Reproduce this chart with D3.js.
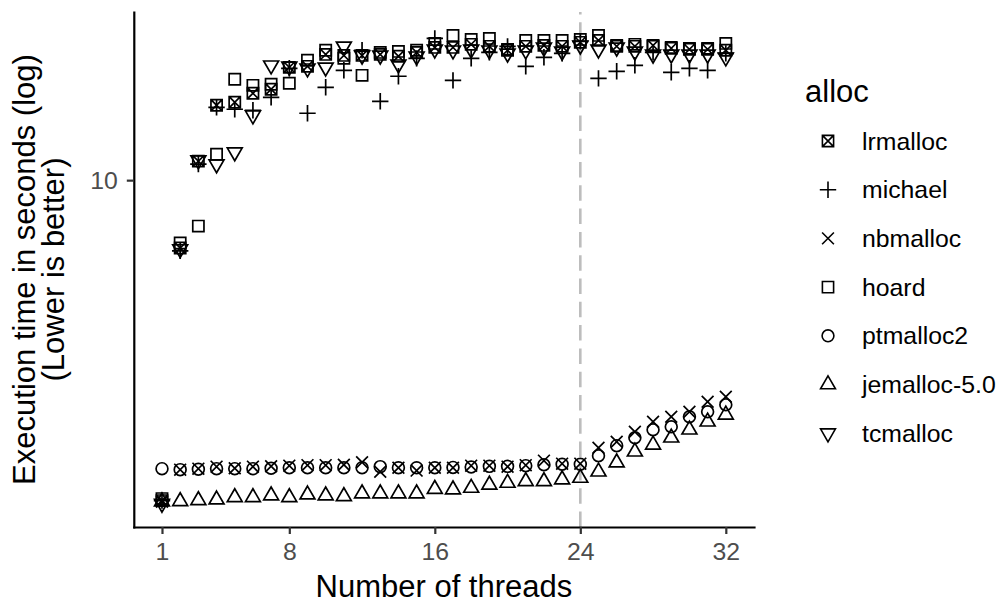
<!DOCTYPE html>
<html><head><meta charset="utf-8">
<script src="https://cdn.jsdelivr.net/npm/d3@7"></script>
<style>body{margin:0;background:#fff}</style>
</head><body>
<svg id="chart" width="998" height="604" xmlns="http://www.w3.org/2000/svg"></svg>
<script>
// ---- data (execution time in seconds) ----
const threads = [1,2,3,4,5,6,7,8,9,10,11,12,13,14,15,16,17,18,19,20,21,22,23,24,25,26,27,28,29,30,31,32];
const allocNames = ["lrmalloc","michael","nbmalloc","hoard","ptmalloc2","jemalloc-5.0","tcmalloc"];
const lrmalloc = [1.721,6.89,11.10,15.09,15.34,16.11,16.47,18.58,18.68,19.95,19.84,19.84,19.95,19.74,20.17,20.73,20.73,21.08,20.85,20.40,20.85,20.96,20.85,21.31,21.54,20.85,20.85,20.96,20.62,20.51,20.51,20.40];
const michael = [1.721,6.78,10.92,14.92,14.76,14.68,15.76,18.48,14.44,16.65,18.28,20.40,15.42,17.69,19.52,21.78,17.30,19.52,20.17,20.85,18.68,19.63,20.06,21.43,17.49,18.18,18.79,20.17,18.08,18.48,18.28,20.06];
const nbmalloc = [1.711,2.040,2.051,2.074,2.056,2.074,2.079,2.085,2.091,2.091,2.096,2.125,2.017,2.062,2.029,2.062,2.062,2.085,2.085,2.074,2.091,2.143,2.108,2.108,2.301,2.378,2.512,2.654,2.727,2.803,2.961,3.043];
const hoard = [1.740,7.08,7.77,11.53,17.40,16.83,16.93,17.02,19.31,20.40,19.52,17.78,20.17,20.28,20.40,21.19,22.14,21.66,21.78,20.51,21.54,21.54,21.54,21.66,22.14,20.96,21.08,20.85,20.73,20.62,20.62,21.19];
const ptmalloc2 = [2.051,2.040,2.045,2.051,2.051,2.051,2.056,2.062,2.062,2.062,2.062,2.062,2.074,2.062,2.062,2.062,2.065,2.070,2.077,2.077,2.085,2.096,2.102,2.102,2.202,2.327,2.431,2.540,2.582,2.727,2.803,2.913];
const jemalloc = [1.711,1.714,1.723,1.730,1.752,1.752,1.769,1.752,1.778,1.769,1.762,1.788,1.788,1.788,1.788,1.833,1.828,1.845,1.877,1.896,1.913,1.913,1.931,1.949,2.017,2.120,2.251,2.339,2.431,2.540,2.654,2.757];
const tcmalloc = [1.693,6.85,11.16,10.92,11.66,14.28,18.79,18.68,18.48,18.58,20.85,19.84,19.84,18.89,19.74,20.51,20.40,20.51,20.40,20.06,20.40,20.73,20.28,20.96,20.51,20.73,20.28,19.95,19.95,19.95,19.95,19.63];
const xTicks = [1,8,16,24,32];
const yTicks = [10];
const vlineAt = 24;

const seriesValues = [lrmalloc, michael, nbmalloc, hoard, ptmalloc2, jemalloc, tcmalloc];
const shapes = ["sqx","plus","cross","square","circle","triup","tridown"];

// ---- layout ----
const L = 133.8, R = 754, T = 12, B = 527;
const font = "'Liberation Sans', Arial, Helvetica, sans-serif";
const svg = d3.select("#chart");

const xr = d3.extent(threads), xpad = (xr[1]-xr[0])*0.05;
const x = d3.scaleLinear().domain([xr[0]-xpad, xr[1]+xpad]).range([L, R]);
const allV = seriesValues.flat();
const lg = d3.extent(allV).map(Math.log10), lp = (lg[1]-lg[0])*0.05;
const y = d3.scaleLog().domain([Math.pow(10, lg[0]-lp), Math.pow(10, lg[1]+lp)]).range([B, T]);

function shapePath(s) {
  const h = 5.6, c = 5.9, p = 8.2, r = 8.6;
  switch (s) {
    case "sqx": return `M${-h},${-h}H${h}V${h}H${-h}Z M${-h},${-h}L${h},${h} M${h},${-h}L${-h},${h}`;
    case "square": return `M${-h},${-h}H${h}V${h}H${-h}Z`;
    case "plus": return `M${-p},0H${p} M0,${-p}V${p}`;
    case "cross": return `M${-c},${-c}L${c},${c} M${c},${-c}L${-c},${c}`;
    case "circle": return `M${c},0A${c},${c} 0 1,1 ${-c},0A${c},${c} 0 1,1 ${c},0Z`;
    case "triup": return `M0,${-r}L${r*0.866},${r/2}L${-r*0.866},${r/2}Z`;
    case "tridown": return `M0,${r}L${r*0.866},${-r/2}L${-r*0.866},${-r/2}Z`;
  }
}

// dashed vertical reference line (drawn bottom to top)
svg.append("line")
  .attr("x1", x(vlineAt)).attr("x2", x(vlineAt))
  .attr("y1", B).attr("y2", T)
  .attr("stroke", "#bdbdbd").attr("stroke-width", 2.6)
  .attr("stroke-dasharray", "15.5 7.8");

// points
seriesValues.forEach((vals, i) => {
  svg.append("g").selectAll("path").data(vals).join("path")
    .attr("transform", (d, j) => `translate(${x(threads[j])},${y(d)})`)
    .attr("d", shapePath(shapes[i]))
    .attr("fill", "none").attr("stroke", "#000").attr("stroke-width", 1.7);
});

// axes
const xAxis = svg.append("g").attr("transform", `translate(0,${B})`)
  .call(d3.axisBottom(x).tickValues(xTicks).tickFormat(d3.format("d")).tickSize(7).tickSizeOuter(0));
const yAxis = svg.append("g").attr("transform", `translate(${L},0)`)
  .call(d3.axisLeft(y).tickValues(yTicks).tickFormat(d3.format("d")).tickSize(7).tickSizeOuter(0));
[xAxis, yAxis].forEach(a => {
  a.select(".domain").attr("stroke", "#000").attr("stroke-width", 2.2).attr("stroke-linecap", "square");
  a.selectAll(".tick line").attr("stroke", "#333").attr("stroke-width", 2.2);
  a.selectAll(".tick text").attr("fill", "#4d4d4d").attr("font-size", 24.8).attr("font-family", font);
});
xAxis.selectAll(".tick text").attr("y", 32.5).attr("dy", 0);
yAxis.selectAll(".tick text").attr("x", -16).attr("dy", "0.35em");

// axis titles
svg.append("text").attr("x", (L+R)/2).attr("y", 597).attr("text-anchor", "middle")
  .attr("font-family", font).attr("font-size", 31).text("Number of threads");
const yc = (T+B)/2;
svg.append("text").attr("transform", `translate(35,${yc}) rotate(-90)`).attr("text-anchor", "middle")
  .attr("font-family", font).attr("font-size", 31).text("Execution time in seconds (log)");
svg.append("text").attr("transform", `translate(64,${yc}) rotate(-90)`).attr("text-anchor", "middle")
  .attr("font-family", font).attr("font-size", 31).text("(Lower is better)");

// legend
const lgG = svg.append("g");
lgG.append("text").attr("x", 805).attr("y", 102).attr("font-family", font).attr("font-size", 31).text("alloc");
allocNames.forEach((n, i) => {
  const cy = 141 + i*48.7;
  lgG.append("path").attr("transform", `translate(828,${cy})`).attr("d", shapePath(shapes[i]))
    .attr("fill", "none").attr("stroke", "#000").attr("stroke-width", 1.6);
  lgG.append("text").attr("x", 862).attr("y", cy).attr("dy", "0.35em")
    .attr("font-family", font).attr("font-size", 24.8).text(n);
});
</script>
</body></html>
